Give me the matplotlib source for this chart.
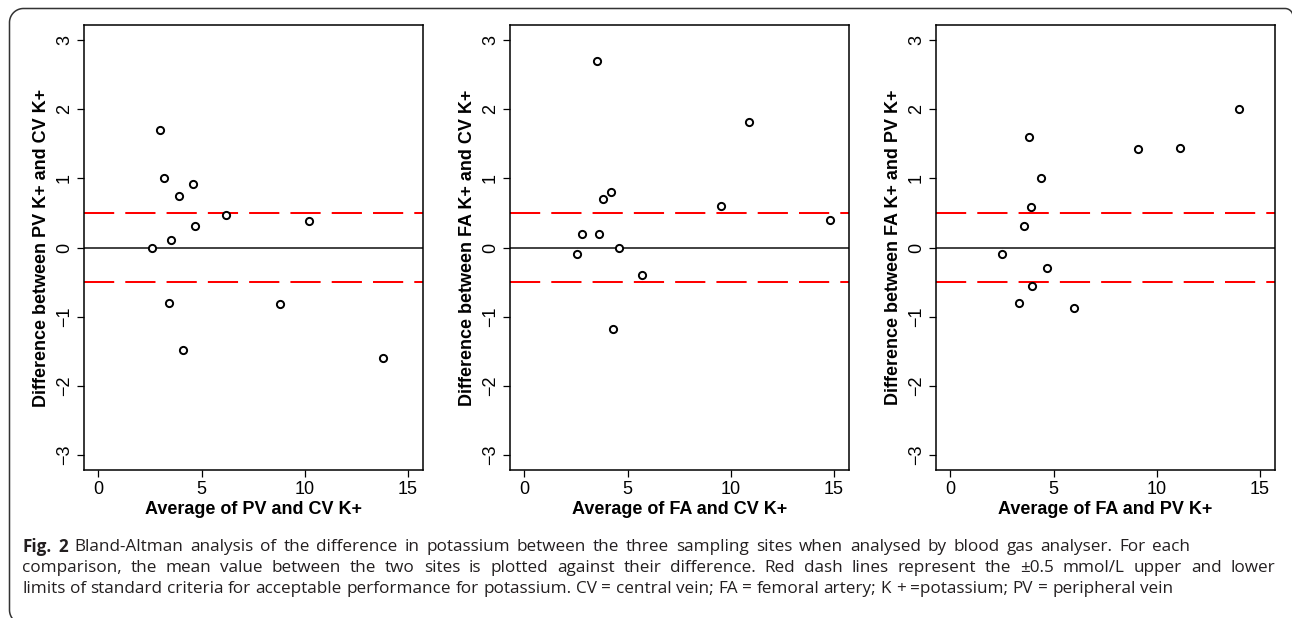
import numpy as np
import matplotlib
matplotlib.use("Agg")
import matplotlib.pyplot as plt

plt.rcParams['font.family'] = ['Liberation Sans', 'DejaVu Sans']

# data
pv_cv_avg = [3.0, 3.2, 3.9, 4.6, 6.2, 4.7, 3.5, 2.6, 10.2, 3.4, 8.8, 4.1, 13.8]
pv_cv_diff = [1.70, 1.00, 0.75, 0.92, 0.47, 0.31, 0.11, 0.00, 0.39, -0.80, -0.82, -1.49, -1.60]

fa_cv_avg = [3.5, 10.9, 4.2, 3.8, 9.5, 14.8, 2.8, 3.6, 4.6, 2.55, 5.7, 4.3]
fa_cv_diff = [2.70, 1.82, 0.80, 0.70, 0.60, 0.40, 0.20, 0.20, 0.00, -0.10, -0.40, -1.18]

fa_pv_avg = [14.0, 3.8, 9.1, 11.1, 4.4, 3.9, 3.55, 2.5, 4.7, 3.95, 3.3, 6.0]
fa_pv_diff = [2.00, 1.60, 1.43, 1.44, 1.00, 0.59, 0.31, -0.10, -0.30, -0.55, -0.80, -0.87]

limits = [-0.5, 0.5]
x_ticks = [0, 5, 10, 15]
y_ticks = [-3, -2, -1, 0, 1, 2, 3]

panels = [
    (pv_cv_avg, pv_cv_diff, "Average of PV and CV K+", "Difference between PV K+ and CV K+"),
    (fa_cv_avg, fa_cv_diff, "Average of FA and CV K+", "Difference between FA K+ and CV K+"),
    (fa_pv_avg, fa_pv_diff, "Average of FA and PV K+", "Difference between FA K+ and PV K+"),
]

caption_lines = [
    "Fig. 2 Bland-Altman analysis of the difference in potassium between the three sampling sites when analysed by blood gas analyser. For each",
    "comparison, the mean value between the two sites is plotted against their difference. Red dash lines represent the \u00b10.5 mmol/L upper and lower",
    "limits of standard criteria for acceptable performance for potassium. CV = central vein; FA = femoral artery; K + =potassium; PV = peripheral vein",
]

W, H = 1292, 618
fig = plt.figure(figsize=(W / 100, H / 100), dpi=100)

# background axes in pixel units for the rounded frame of the figure box
bg = fig.add_axes([0, 0, 1, 1], zorder=-1)
bg.set_xlim(0, W)
bg.set_ylim(H, 0)
bg.axis('off')
r = 14
th = np.linspace(0, np.pi / 2, 30)
left_x = 9.5
top_y = 8.5
tl_x = left_x + r - r * np.sin(th)
tl_y = top_y + r - r * np.cos(th)
bl_x = left_x + r - r * np.cos(th)
bl_y = (H + 6) - r + r * np.sin(th)
tr_x = (W - 7) + 8 * np.sin(th)
tr_y = top_y + 8 - 8 * np.cos(th)
path_x = np.concatenate([bl_x[::-1], tl_x[::-1], tr_x])
path_y = np.concatenate([bl_y[::-1], tl_y[::-1], tr_y])
bg.plot(path_x, path_y, color='#333333', lw=1.1, solid_capstyle='round', clip_on=False)

lefts = [84, 510, 936]
for (avg, diff, xlab, ylab), left in zip(panels, lefts):
    ax = fig.add_axes([left / W, 1 - 470 / H, 338.5 / W, 445 / H])
    ax.axhline(0, color='#333333', lw=1.3, zorder=1)
    for lim in limits:
        ax.axhline(lim, color='#ff0000', lw=1.45, linestyle=(0, (15, 5.5)), zorder=2)
    ax.plot(avg, diff, 'o', mfc='white', mec='black', ms=5.2, mew=1.4, zorder=3)
    ax.set_xlim(-0.7, 15.7)
    ax.set_ylim(-3.22, 3.22)
    ax.set_xticks(x_ticks)
    ax.set_yticks(y_ticks)
    ax.tick_params(direction='out', length=5, width=0.9, labelsize=13, pad=3)
    ax.tick_params(axis='y', labelrotation=90)
    for lbl in ax.get_yticklabels():
        lbl.set_va('center')
    ax.set_xlabel(xlab, fontsize=13, fontweight='bold', labelpad=2)
    ax.set_ylabel(ylab, fontsize=13, fontweight='bold', labelpad=4)
    for sp in ax.spines.values():
        sp.set_linewidth(1.1)

# caption, set word by word so the first two lines are justified
cap_font = ['Open Sans', 'DejaVu Sans']
cap_size = 12.3
cap_color = '#231f20'
line_y = [547, 568, 589]
line_end = [1190, 1275, None]
x_start = 22
rend = fig.canvas.get_renderer()

sp = fig.text(0, 0, 'a a', family=cap_font, fontsize=cap_size)
sa = fig.text(0, 0, 'aa', family=cap_font, fontsize=cap_size)
nat_space = sp.get_window_extent(renderer=rend).width - sa.get_window_extent(renderer=rend).width
sp.remove()
sa.remove()

for n, (line, y, x_end) in enumerate(zip(caption_lines, line_y, line_end)):
    words = line.split(' ')
    texts = []
    widths = []
    for i, w in enumerate(words):
        bold = (n == 0 and i < 2)
        t = fig.text(0, 1 - y / H, w, family=cap_font, fontsize=cap_size, color=cap_color,
                     fontweight='bold' if bold else 'normal', va='center', ha='left')
        texts.append(t)
        widths.append(t.get_window_extent(renderer=rend).width)
    space = nat_space
    if x_end is not None:
        space = max(nat_space, (x_end - x_start - sum(widths)) / (len(words) - 1))
    x = x_start
    for t, w in zip(texts, widths):
        t.set_x(x / W)
        x += w + space

fig.savefig("out.png", dpi=100)
